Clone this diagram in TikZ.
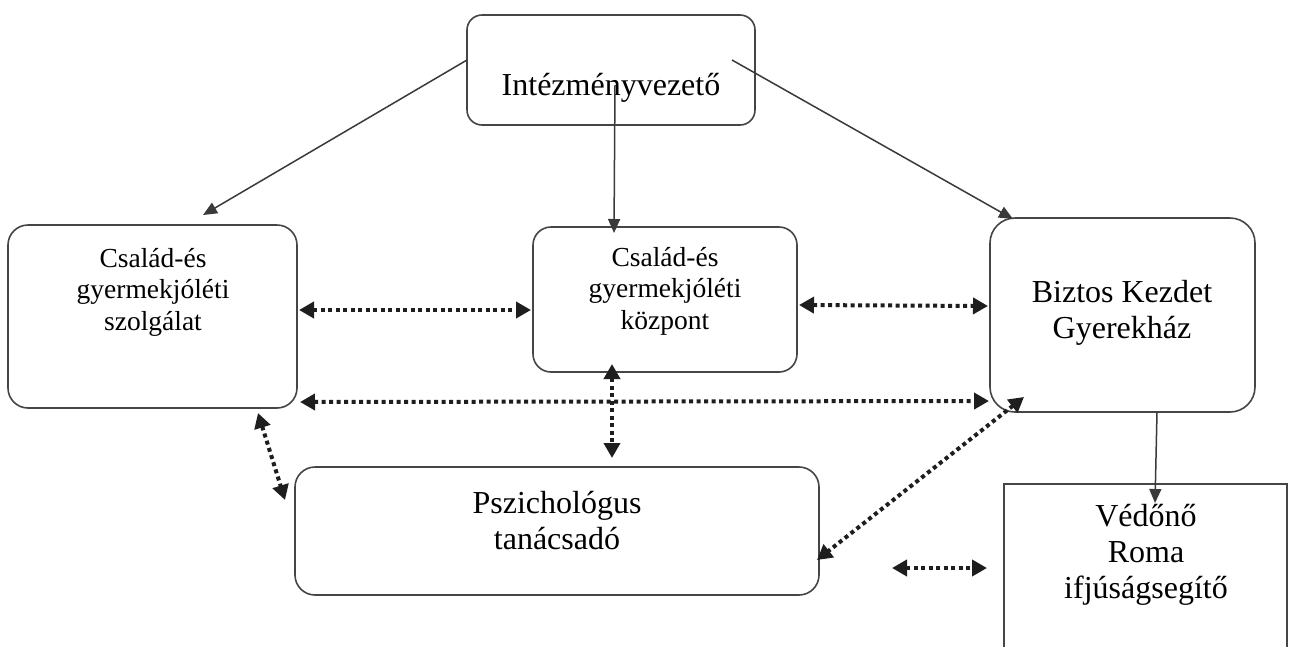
\documentclass[tikz,border=0pt]{standalone}
\usepackage{fontspec}
\setmainfont{Liberation Serif}
\usetikzlibrary{arrows.meta}
\definecolor{boxgray}{HTML}{454545}
\definecolor{arrowgray}{HTML}{3A3A3A}
\definecolor{dotblack}{HTML}{1E1E1E}
\begin{document}
\begin{tikzpicture}[x=1pt,y=-1pt,
  box/.style={draw=boxgray, line width=1.6pt, inner sep=0pt, outer sep=0pt},
  big/.style={font=\fontsize{32}{36}\selectfont, align=center, inner sep=0pt, text=black},
  small/.style={font=\fontsize{27.5}{31.5}\selectfont, align=center, inner sep=0pt, text=black},
  solidarrow/.style={draw=arrowgray, line width=1.5pt, -{Triangle[length=14pt,width=12pt]}},
  dotarrow/.style={draw=dotblack, line width=4pt, dash pattern=on 4pt off 3.5pt,
     {Triangle[length=15pt,width=16pt]}-{Triangle[length=15pt,width=16pt]}}
]
\useasboundingbox (0,0) rectangle (1290,646);
\clip (0,0) rectangle (1290,646);
\fill[white] (0,0) rectangle (1290,646);

% boxes
\node[box, rounded corners=15pt, minimum width=288pt, minimum height=110pt] (int) at (611,70) {};
\node[box, rounded corners=20pt, minimum width=289pt, minimum height=183pt] (csl) at (152.5,316.5) {};
\node[box, rounded corners=18pt, minimum width=264pt, minimum height=145pt] (csk) at (665,299.5) {};
\node[box, rounded corners=25pt, minimum width=265pt, minimum height=194pt] (bk) at (1122.5,315) {};
\node[box, rounded corners=20pt, minimum width=524pt, minimum height=128pt] (psz) at (557,531) {};
\node[box, minimum width=283pt, minimum height=216pt] (ved) at (1145.5,592) {};

% texts (base anchor = baseline of the last line)
\node[big, anchor=base] (tint) at (611,95) {Intézményvezető};
\node[small, anchor=base] (tcsl) at (153,330) {Család-és\\gyermekjóléti\\szolgálat};
\node[small, anchor=base] (tcsk) at (665,329) {Család-és\\gyermekjóléti\\központ};
\node[big, anchor=base] (tbk) at (1122,338) {Biztos Kezdet\\Gyerekház};
\node[big, anchor=base] (tpsz) at (557,549) {Pszichológus\\tanácsadó};
\node[big, anchor=base] (tved) at (1146,598) {Védőnő\\Roma\\ifjúságsegítő};

% endpoints
\coordinate (a1s) at (467,60);   \coordinate (a1e) at (203,215);
\coordinate (a2s) at (615,85);   \coordinate (a2e) at (614,233);
\coordinate (a3s) at (732,60);   \coordinate (a3e) at (1013,219);
\coordinate (a4s) at (1157,412); \coordinate (a4e) at (1155,503);

\coordinate (d1s) at (299,310);  \coordinate (d1e) at (531,310);
\coordinate (d2s) at (799,305);  \coordinate (d2e) at (988,306);
\coordinate (d3s) at (300,402);  \coordinate (d3e) at (989,401);
\coordinate (d4s) at (612,364);  \coordinate (d4e) at (612,458);
\coordinate (d5s) at (258,413);  \coordinate (d5e) at (285,500);
\coordinate (d6s) at (1024,397); \coordinate (d6e) at (817,560);
\coordinate (d7s) at (892,568);  \coordinate (d7e) at (987,568);

% solid arrows
\draw[solidarrow] (a1s) -- (a1e);
\draw[solidarrow] (a2s) -- (a2e);
\draw[solidarrow] (a3s) -- (a3e);
\draw[solidarrow] (a4s) -- (a4e);

% dotted double arrows
\draw[dotarrow] (d1s) -- (d1e);
\draw[dotarrow] (d2s) -- (d2e);
\draw[dotarrow] (d3s) -- (d3e);
\draw[dotarrow] (d4s) -- (d4e);
\draw[dotarrow] (d5s) -- (d5e);
\draw[dotarrow] (d6s) -- (d6e);
\draw[dotarrow] (d7s) -- (d7e);
\end{tikzpicture}
\end{document}
